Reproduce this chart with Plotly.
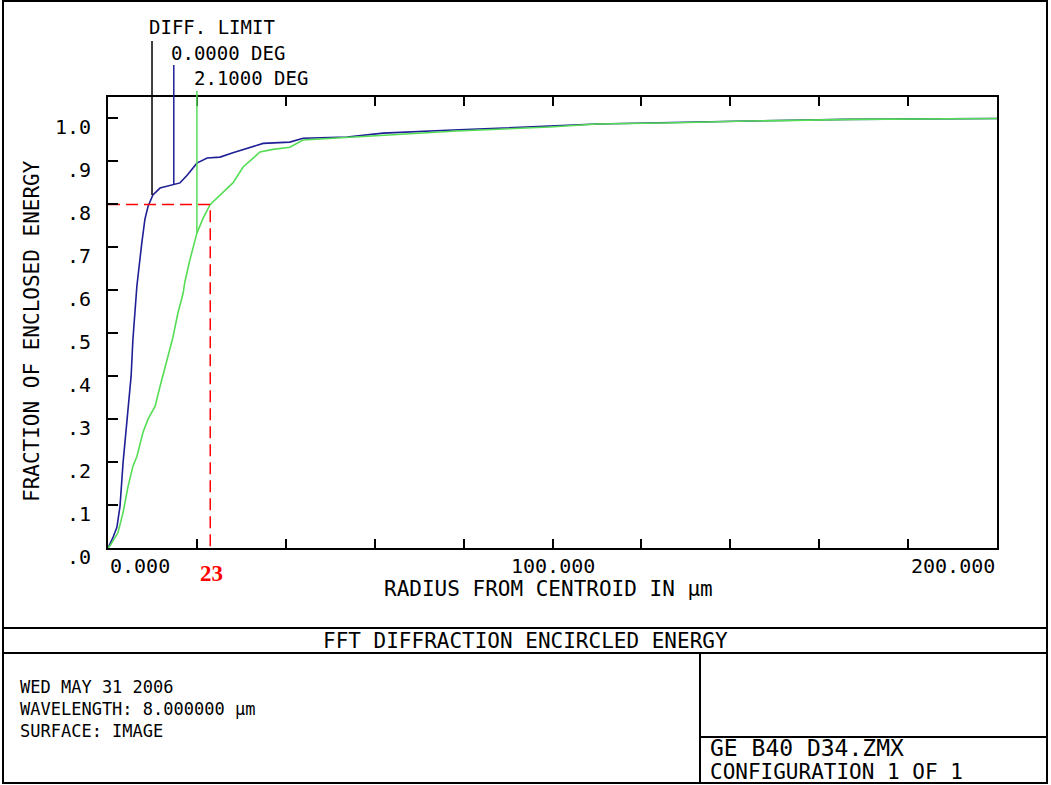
import plotly.graph_objects as go

# ---------------- data ----------------
blue_x = [0, 1.1, 2.0, 2.7, 3.4, 4.3, 5.2, 5.6, 6.1, 6.5, 7.6, 8.3, 9.0, 10.1, 11.7, 14.6,
          16.2, 17.8, 20.0, 22.3, 25.2, 28.1, 31.5, 34.9, 40.9, 43.9, 53.8, 61.9, 77.6,
          98.8, 110.0, 144.0, 166.0, 200.0]
blue_y = [0, 0.024, 0.048, 0.097, 0.20, 0.30, 0.40, 0.485, 0.555, 0.61, 0.71, 0.765, 0.795,
          0.822, 0.838, 0.845, 0.85, 0.868, 0.896, 0.908, 0.91, 0.92, 0.931, 0.942, 0.945,
          0.954, 0.957, 0.966, 0.973, 0.982, 0.987, 0.994, 0.998, 1.0]

green_x = [0, 0.45, 2.25, 3.4, 4.5, 5.6, 6.5, 7.9, 9.0, 10.6, 11.7, 12.4, 13.5, 14.6, 15.7,
           16.9, 17.3, 18.4, 20.0, 21.4, 23.0, 25.2, 28.1, 30.4, 34.2, 37.1, 40.9, 43.9,
           50.6, 62.8, 78.5, 99.4, 110.0, 128.0, 144.0, 168.0, 200.0]
green_y = [0, 0.005, 0.036, 0.083, 0.143, 0.19, 0.213, 0.27, 0.30, 0.33, 0.376, 0.404, 0.446,
           0.49, 0.546, 0.593, 0.62, 0.67, 0.733, 0.768, 0.80, 0.822, 0.85, 0.887, 0.922,
           0.928, 0.933, 0.95, 0.954, 0.962, 0.971, 0.98, 0.987, 0.99, 0.994, 0.998, 1.0]

# curve label markers: x position, value where the marker meets the curve
marker_labels = ["DIFF. LIMIT", "0.0000 DEG", "2.1000 DEG"]
marker_x = [9.9, 14.8, 20.0]
marker_y = [0.822, 0.845, 0.733]
marker_colors = ["black", "#1f1f96", "#55dd55"]

# 80% encircled energy marker
ee_level = 0.8
ee_radius = 23

y_tickvals = [0, 0.1, 0.2, 0.3, 0.4, 0.5, 0.6, 0.7, 0.8, 0.9, 1.0]
y_ticktext = [".0", ".1", ".2", ".3", ".4", ".5", ".6", ".7", ".8", ".9", "1.0"]
x_tickvals = [0, 20, 40, 60, 80, 100, 120, 140, 160, 180, 200]
x_label_vals = [0, 100, 200]
x_label_text = ["0.000", "100.000", "200.000"]

info_lines = ["WED MAY 31 2006", "WAVELENGTH: 8.000000 µm", "SURFACE: IMAGE"]

X_MAX = 200
Y_MAX = 1.05

# ---------------- layout geometry ----------------
W, H = 1051, 785
L, R, T, B = 108, 54, 97, 237
PW = W - L - R
PH = H - T - B


def px(x):
    return (x - L) / PW


def py(y):
    return (H - B - y) / PH


MONO = "DejaVu Sans Mono"
BLUE = "#1f1f96"
GREEN = "#55dd55"

fig = go.Figure()

fig.add_trace(go.Scatter(x=blue_x, y=blue_y, mode="lines",
                         line=dict(color=BLUE, width=1.6), showlegend=False))
fig.add_trace(go.Scatter(x=green_x, y=green_y, mode="lines",
                         line=dict(color=GREEN, width=1.6), showlegend=False))

# red 80% marker
fig.add_trace(go.Scatter(x=[0, ee_radius, ee_radius], y=[ee_level, ee_level, 0], mode="lines",
                         line=dict(color="red", width=1.5, dash="12px,6px"), showlegend=False))

shapes = []
annotations = []

label_tops = [41, 65, 91]
label_centers = [27, 53, 78]
for lab, mx, my, col, top, cy in zip(marker_labels, marker_x, marker_y, marker_colors,
                                     label_tops, label_centers):
    shapes.append(dict(type="line", xref="x", yref="y domain", x0=mx, x1=mx,
                       y0=my / Y_MAX, y1=py(top), line=dict(color=col, width=1.5)))
    annotations.append(dict(text=lab, xref="x", yref="paper", x=mx, y=py(cy),
                            xanchor="left", yanchor="middle", xshift=-5, showarrow=False,
                            font=dict(family=MONO, size=19, color="black")))

# x tick labels
for v, t, anc in zip(x_label_vals, x_label_text, ["left", "center", "right"]):
    annotations.append(dict(text=t, xref="x", yref="paper", x=v, y=py(566),
                            xanchor=anc, yanchor="middle", showarrow=False,
                            font=dict(family=MONO, size=20, color="black")))

annotations.append(dict(text="<b>23</b>", xref="x", yref="paper", x=ee_radius, y=py(573),
                        xanchor="center", yanchor="middle", showarrow=False, xshift=1,
                        font=dict(family="Liberation Serif", size=23, color="red")))

annotations.append(dict(text="RADIUS FROM CENTROID IN µm", xref="paper", yref="paper",
                        x=px(548), y=py(589), xanchor="center", yanchor="middle",
                        showarrow=False, font=dict(family=MONO, size=21, color="black")))
annotations.append(dict(text="FRACTION OF ENCLOSED ENERGY", xref="paper", yref="paper",
                        x=px(32), y=py(331), xanchor="center", yanchor="middle",
                        textangle=-90, showarrow=False,
                        font=dict(family=MONO, size=21, color="black")))

annotations.append(dict(text="FFT DIFFRACTION ENCIRCLED ENERGY", xref="paper", yref="paper",
                        x=px(525), y=py(641), xanchor="center", yanchor="middle",
                        showarrow=False, font=dict(family=MONO, size=21, color="black")))

annotations.append(dict(text="<br>".join(info_lines), xref="paper", yref="paper", x=px(18),
                        y=py(709), xanchor="left", yanchor="middle", align="left",
                        showarrow=False, font=dict(family=MONO, size=17, color="black")))

annotations.append(dict(text="GE B40 D34.ZMX", xref="paper", yref="paper", x=px(708),
                        y=py(748), xanchor="left", yanchor="middle", showarrow=False,
                        font=dict(family=MONO, size=23, color="black")))
annotations.append(dict(text="CONFIGURATION 1 OF 1", xref="paper", yref="paper", x=px(708),
                        y=py(772), xanchor="left", yanchor="middle", showarrow=False,
                        font=dict(family=MONO, size=21, color="black")))

# frame / boxes
frame = dict(color="black", width=2)
shapes.append(dict(type="rect", xref="paper", yref="paper", x0=px(3), x1=px(1047),
                   y0=py(783), y1=py(1), line=frame))
shapes.append(dict(type="line", xref="paper", yref="paper", x0=px(3), x1=px(1047),
                   y0=py(628), y1=py(628), line=frame))
shapes.append(dict(type="line", xref="paper", yref="paper", x0=px(3), x1=px(1047),
                   y0=py(653), y1=py(653), line=frame))
shapes.append(dict(type="line", xref="paper", yref="paper", x0=px(700), x1=px(700),
                   y0=py(653), y1=py(783), line=frame))
shapes.append(dict(type="line", xref="paper", yref="paper", x0=px(700), x1=px(1047),
                   y0=py(737), y1=py(737), line=frame))

fig.update_layout(
    width=W, height=H,
    margin=dict(l=L, r=R, t=T, b=B, pad=0),
    paper_bgcolor="white", plot_bgcolor="white",
    showlegend=False,
    shapes=shapes, annotations=annotations,
    xaxis=dict(range=[0, X_MAX], tickvals=x_tickvals, showticklabels=False,
               ticks="inside", ticklen=9, tickwidth=2, tickcolor="black",
               showline=True, linewidth=2, linecolor="black", mirror="ticks",
               showgrid=False, zeroline=False, fixedrange=True),
    yaxis=dict(range=[0, Y_MAX], tickvals=y_tickvals, ticktext=y_ticktext,
               ticks="inside", ticklen=10, tickwidth=2, tickcolor="black",
               showline=True, linewidth=2, linecolor="black", mirror=True,
               showgrid=False, zeroline=False, fixedrange=True,
               ticklabelshift=9, ticklabelstandoff=11,
               tickfont=dict(family=MONO, size=20, color="black")),
)

fig.write_html("out.html", config={"displayModeBar": False},
               post_script="document.body.style.margin='0';document.body.style.overflow='hidden';")
